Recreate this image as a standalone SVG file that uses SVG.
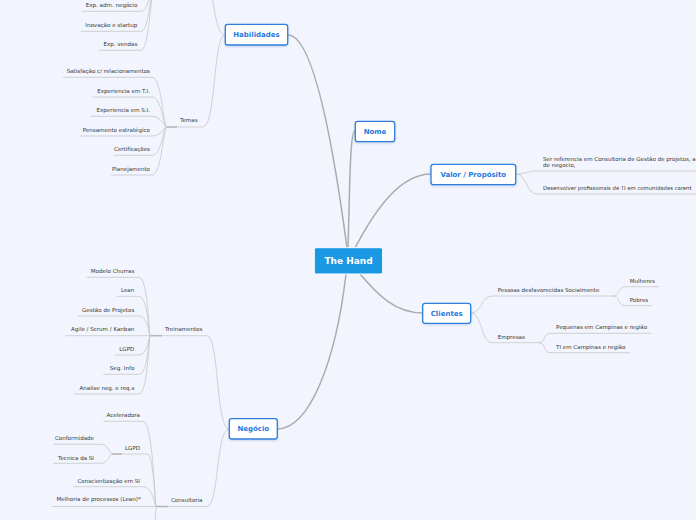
<svg xmlns="http://www.w3.org/2000/svg" width="696" height="520" viewBox="0 0 696 520">
<defs>
<style>
.bg{fill:#f2f5fd}
.main{fill:none;stroke:#ababab;stroke-width:1.5;stroke-linecap:round}
.sub{fill:none;stroke:#c6c6c6;stroke-width:0.8}
.stub{fill:none;stroke:#b8b8b8;stroke-width:1.6}
.box{fill:#ffffff;stroke:#2e7fe0;stroke-width:1.3}
.root{fill:#1b98e3;stroke:#ffffff;stroke-width:1}
.nt{font-family:"DejaVu Sans",Verdana,sans-serif;font-weight:bold;font-size:7px;fill:#1f78de;text-anchor:middle}
.rt{font-family:"DejaVu Sans",Verdana,sans-serif;font-weight:bold;font-size:9px;fill:#ffffff;text-anchor:middle}
.t{font-family:"DejaVu Sans",Verdana,sans-serif;font-size:5.55px;fill:#353535}
.e{text-anchor:end}
.sm{font-size:5.3px}
</style>
<filter id="sh" x="-20%" y="-20%" width="140%" height="160%">
<feDropShadow dx="0" dy="1" stdDeviation="0.8" flood-color="#6a8fc0" flood-opacity="0.35"/>
</filter>
</defs>
<rect class="bg" x="0" y="0" width="696" height="520"/>

<g id="connectors">
<path class="main" d="M347,248 C330,120 310,35 288,35"/>
<path class="main" d="M348,248 C350,180 350,131 355,131"/>
<path class="main" d="M355,248 C375,210 400,174 431,174"/>
<path class="main" d="M360,274 C378,295 395,313 423,313"/>
<path class="main" d="M346,274 C336,360 310,429 277,429"/>
<path class="sub" d="M225,35 C213,35 216,127 203,127"/>
<path class="sub" d="M225,35 C213,35 214,-20 205,-20"/>
<path class="stub" d="M167,127 H177"/>
<path class="sub" d="M177,127 H203"/>
<path class="sub" d="M63,77.3 H152 C162,77.3 163,127 167,127"/>
<path class="sub" d="M92,97 H152 C162,97 163,127 167,127"/>
<path class="sub" d="M91,116.3 H152 C162,116.3 163,127 167,127"/>
<path class="sub" d="M79,136 H152 C162,136 163,127 167,127"/>
<path class="sub" d="M114,155.3 H152 C162,155.3 163,127 167,127"/>
<path class="sub" d="M111,175 H152 C162,175 163,127 167,127"/>
<path class="sub" d="M81.7,11.3 H141 C150,11.3 151,-20 156,-20"/>
<path class="sub" d="M81,31.3 H141 C150,31.3 151,-20 156,-20"/>
<path class="sub" d="M99,50.3 H141 C150,50.3 151,-20 156,-20"/>
<path class="sub" d="M229,429 C216,429 219,335.7 207,335.7"/>
<path class="sub" d="M229,429 C216,429 219,506.5 207,506.5"/>
<path class="stub" d="M150,335.7 H162"/>
<path class="sub" d="M162,335.7 H207"/>
<path class="sub" d="M86.7,277.3 H139 C148,277.3 149,335.7 150,335.7"/>
<path class="sub" d="M116.7,296.3 H139 C148,296.3 149,335.7 150,335.7"/>
<path class="sub" d="M77.7,316 H139 C148,316 149,335.7 150,335.7"/>
<path class="sub" d="M65.7,335.7 H150"/>
<path class="sub" d="M115,355 H139 C148,355 149,335.7 150,335.7"/>
<path class="sub" d="M103.3,374.3 H139 C148,374.3 149,335.7 150,335.7"/>
<path class="sub" d="M74.3,394 H139 C148,394 149,335.7 150,335.7"/>
<path class="stub" d="M156,506.5 H168"/>
<path class="sub" d="M168,506.5 H207"/>
<path class="sub" d="M103.3,421.3 H143 C153,421.3 155,506.5 156,506.5"/>
<path class="sub" d="M122,454 H147 C154,454 155,506.5 156,506.5"/>
<path class="sub" d="M73.3,486.7 H143 C153,486.7 155,506.5 156,506.5"/>
<path class="sub" d="M51.7,506.5 H156"/>
<path class="sub" d="M156,506.5 C155,520 155,540 150,545"/>
<path class="stub" d="M112,454 H122"/>
<path class="sub" d="M53.3,444.3 H101 C108,444.3 110,454 112,454"/>
<path class="sub" d="M53,463.3 H101 C108,463.3 110,454 112,454"/>
<path class="sub" d="M516,174 C527,174 526,171 537,171 H700"/>
<path class="sub" d="M516,174 C527,174 526,194 537,194 H700"/>
<path class="sub" d="M471,313 C482,313 481,296 492,296 H613"/>
<path class="sub" d="M471,313 C482,313 481,342.7 492,342.7 H539"/>
<path class="sub" d="M613,296 C620,296 618,286.7 625,286.7 H659"/>
<path class="sub" d="M613,296 C620,296 618,305.7 625,305.7 H652"/>
<path class="sub" d="M539,342.7 C546,342.7 543,333.3 550,333.3 H651"/>
<path class="sub" d="M539,342.7 C546,342.7 543,352.7 550,352.7 H630"/>
</g>

<g id="root">
<rect class="root" x="314.3" y="247.7" width="68.4" height="26.3" rx="2"/>
<text class="rt" x="348.5" y="264.2">The Hand</text>
</g>
<g id="habilidades">
<rect class="box" filter="url(#sh)" x="225.3" y="24.3" width="62.4" height="20.7" rx="2.5"/>
<text class="nt" x="256.5" y="37.3">Habilidades</text>
</g>
<g id="nome">
<rect class="box" filter="url(#sh)" x="355.3" y="121.3" width="39.4" height="20.4" rx="2.5"/>
<text class="nt" x="375" y="134">Nome</text>
</g>
<g id="valor">
<rect class="box" filter="url(#sh)" x="431" y="164.3" width="84.7" height="20.4" rx="2.5"/>
<text class="nt" x="473.3" y="177">Valor / Propósito</text>
</g>
<g id="clientes">
<rect class="box" filter="url(#sh)" x="422.7" y="303.3" width="48" height="20" rx="2.5"/>
<text class="nt" x="446.7" y="315.8">Clientes</text>
</g>
<g id="negocio">
<rect class="box" filter="url(#sh)" x="229.3" y="418.7" width="48" height="20.3" rx="2.5"/>
<text class="nt" x="253.3" y="431.3">Negócio</text>
</g>

<g id="habilidades-children">
<text class="t e" x="137.3" y="6.8">Exp. adm. negócio</text>
<text class="t e" x="137.3" y="26.8">Inovação e startup</text>
<text class="t e" x="137.3" y="45.8">Exp. vendas</text>
<text class="t" x="180" y="121.8">Temas</text>
<text class="t e" x="150" y="72.8">Satisfação c/ relacionamentos</text>
<text class="t e" x="150" y="92.5">Experiencia em T.I.</text>
<text class="t e" x="150" y="111.8">Experiencia em S.I.</text>
<text class="t e" x="150" y="131.8">Pensamento estratégico</text>
<text class="t e" x="150" y="150.8">Certificações</text>
<text class="t e" x="150" y="170.8">Planejamento</text>
</g>
<g id="negocio-children">
<text class="t" x="165" y="330.8">Treinamentos</text>
<text class="t e" x="134.3" y="272.8">Modelo Churras</text>
<text class="t e" x="134.3" y="291.8">Lean</text>
<text class="t e" x="134.3" y="311.5">Gestão de Projetos</text>
<text class="t e" x="134.3" y="330.8">Agile / Scrum / Kanban</text>
<text class="t e" x="134.3" y="350.8">LGPD</text>
<text class="t e" x="134.3" y="369.8">Seg. Info</text>
<text class="t e" x="134.3" y="389.8">Analise neg. e req.s</text>
<text class="t" x="171" y="501.5">Consultoria</text>
<text class="t e" x="140" y="416.8">Aceleradora</text>
<text class="t" x="125" y="449.5">LGPD</text>
<text class="t e" x="94" y="440.1">Conformidade</text>
<text class="t e" x="94" y="459.5">Tecnica da SI</text>
<text class="t e" x="140" y="482.5">Conscientização em SI</text>
<text class="t e" x="140.7" y="501.1">Melhoria de processos (Lean)*</text>
</g>
<g id="valor-children">
<text class="t" x="543" y="160.8">Ser referencia em Consultoria de Gestão de projetos, a</text>
<text class="t" x="543" y="166.8">de negocio,</text>
<text class="t sm" x="543" y="189.5">Desenvolver profissionais de TI em comunidades carent</text>
</g>
<g id="clientes-children">
<text class="t" x="497.7" y="291.8">Pessoas desfavorecidas Socialmente</text>
<text class="t" x="629.7" y="282.5">Mulheres</text>
<text class="t" x="629.7" y="301.5">Pobres</text>
<text class="t" x="497.7" y="338.8">Empresas</text>
<text class="t" x="556" y="328.8">Pequenas em Campinas e região</text>
<text class="t" x="556" y="348.5">TI em Campinas e região</text>
</g>
</svg>
